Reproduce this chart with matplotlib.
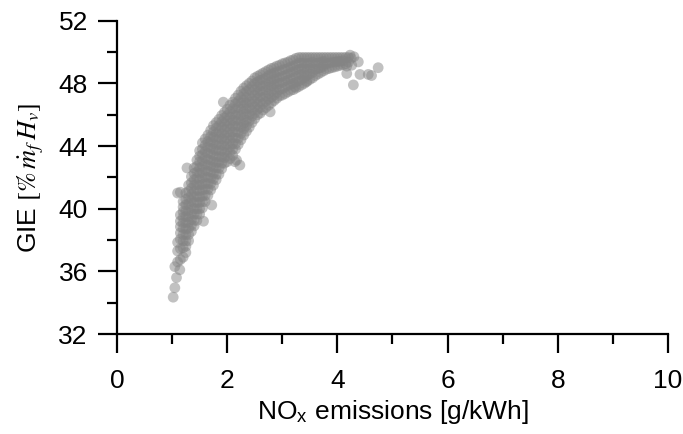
import matplotlib
matplotlib.use("Agg")
import matplotlib.pyplot as plt
from matplotlib.ticker import MultipleLocator

plt.rcParams["font.family"] = ["Liberation Sans", "DejaVu Sans"]
plt.rcParams["mathtext.fontset"] = "stix"

# NOx emissions [g/kWh] (one value per column of readings) and the GIE values read at it
nox_cols = [1.10, 1.15, 1.20, 1.25, 1.30, 1.35, 1.40, 1.45, 1.50, 1.55,
            1.60, 1.65, 1.70, 1.75, 1.80, 1.85, 1.90, 1.95, 2.00, 2.05,
            2.10, 2.15, 2.20, 2.25, 2.30, 2.35, 2.40, 2.45, 2.50, 2.55,
            2.60, 2.65, 2.70, 2.75, 2.80, 2.85, 2.90, 2.95, 3.00, 3.05,
            3.10, 3.15, 3.20, 3.25, 3.30, 3.35, 3.40, 3.45, 3.50, 3.55,
            3.60, 3.65, 3.70, 3.75, 3.80, 3.85, 3.90, 3.95, 4.00, 4.05,
            4.10, 4.15, 4.20, 4.25]
gie_cols = [
    [36.6, 37.3, 37.85],
    [36.75, 37.45, 38.05, 38.45, 38.85, 39.2, 39.6],
    [36.9, 37.5, 37.95, 38.35, 38.75, 39.1, 39.45, 39.8, 40.1, 40.45],
    [37.2, 37.6, 37.95, 38.35, 38.7, 39.1, 39.5, 39.85, 40.25, 40.6, 41.0],
    [37.95, 38.35, 38.75, 39.15, 39.5, 39.9, 40.3, 40.7, 41.1, 41.5],
    [38.55, 38.95, 39.3, 39.7, 40.1, 40.5, 40.9, 41.3, 41.65, 42.05],
    [38.9, 39.25, 39.65, 40.0, 40.4, 40.75, 41.1, 41.5, 41.85, 42.25, 42.6],
    [39.25, 39.65, 40.0, 40.4, 40.8, 41.2, 41.55, 41.95, 42.35, 42.7, 43.1],
    [39.65, 40.0, 40.4, 40.75, 41.15, 41.5, 41.85, 42.25, 42.6, 43.0, 43.35, 43.7],
    [40.05, 40.45, 40.8, 41.2, 41.55, 41.95, 42.3, 42.7, 43.05, 43.45, 43.8, 44.2],
    [40.45, 40.85, 41.25, 41.65, 42.05, 42.45, 42.85, 43.25, 43.65, 44.05, 44.45],
    [40.85, 41.25, 41.6, 42.0, 42.4, 42.8, 43.15, 43.55, 43.95, 44.3, 44.7],
    [41.2, 41.6, 41.95, 42.35, 42.7, 43.1, 43.5, 43.85, 44.25, 44.6, 45.0],
    [41.5, 41.9, 42.25, 42.65, 43.0, 43.4, 43.8, 44.15, 44.55, 44.9, 45.3],
    [41.85, 42.2, 42.6, 42.95, 43.3, 43.7, 44.05, 44.4, 44.8, 45.15, 45.5],
    [42.2, 42.6, 43.0, 43.35, 43.75, 44.15, 44.55, 44.9, 45.3, 45.7],
    [42.55, 42.9, 43.3, 43.7, 44.05, 44.45, 44.8, 45.2, 45.55, 45.95],
    [42.9, 43.25, 43.6, 44.0, 44.35, 44.7, 45.05, 45.45, 45.8, 46.15],
    [43.0, 43.35, 43.75, 44.1, 44.5, 44.85, 45.25, 45.6, 45.95, 46.35],
    [43.2, 43.6, 43.95, 44.35, 44.7, 45.1, 45.45, 45.85, 46.2, 46.6],
    [43.4, 43.8, 44.15, 44.55, 44.9, 45.3, 45.65, 46.05, 46.4, 46.8],
    [43.8, 44.15, 44.5, 44.9, 45.25, 45.6, 45.95, 46.35, 46.7, 47.05],
    [44.1, 44.5, 44.9, 45.3, 45.7, 46.05, 46.45, 46.85, 47.25],
    [44.4, 44.8, 45.2, 45.55, 45.95, 46.35, 46.75, 47.1, 47.5],
    [44.7, 45.1, 45.45, 45.85, 46.2, 46.6, 46.95, 47.35, 47.7],
    [44.95, 45.3, 45.65, 46.05, 46.4, 46.75, 47.1, 47.5, 47.85],
    [45.2, 45.6, 46.0, 46.4, 46.8, 47.2, 47.6, 48.0],
    [45.5, 45.9, 46.25, 46.65, 47.0, 47.4, 47.8, 48.15],
    [45.75, 46.1, 46.5, 46.85, 47.25, 47.6, 48.0, 48.35],
    [46.0, 46.35, 46.7, 47.05, 47.4, 47.75, 48.1, 48.45],
    [46.1, 46.45, 46.8, 47.15, 47.5, 47.85, 48.2, 48.55],
    [46.3, 46.7, 47.1, 47.5, 47.85, 48.25, 48.65],
    [46.45, 46.85, 47.2, 47.6, 48.0, 48.35, 48.75],
    [46.6, 47.0, 47.35, 47.75, 48.1, 48.5, 48.85],
    [46.75, 47.1, 47.5, 47.85, 48.2, 48.6, 48.95],
    [46.9, 47.25, 47.6, 47.95, 48.3, 48.65, 49.0],
    [47.05, 47.4, 47.75, 48.1, 48.4, 48.75, 49.1],
    [47.2, 47.6, 48.0, 48.35, 48.75, 49.15],
    [47.25, 47.65, 48.05, 48.45, 48.85, 49.25],
    [47.35, 47.75, 48.15, 48.5, 48.9, 49.3],
    [47.45, 47.85, 48.2, 48.6, 48.95, 49.35],
    [47.55, 47.95, 48.3, 48.7, 49.05, 49.45],
    [47.6, 48.0, 48.35, 48.75, 49.1, 49.5],
    [47.7, 48.1, 48.45, 48.85, 49.2, 49.6],
    [47.8, 48.15, 48.55, 48.9, 49.3, 49.65],
    [47.9, 48.25, 48.6, 48.95, 49.3, 49.65],
    [48.0, 48.35, 48.65, 49.0, 49.3, 49.65],
    [48.15, 48.5, 48.9, 49.25, 49.65],
    [48.25, 48.6, 48.95, 49.3, 49.65],
    [48.35, 48.7, 49.0, 49.35, 49.65],
    [48.5, 48.9, 49.25, 49.65],
    [48.6, 48.95, 49.3, 49.65],
    [48.7, 49.0, 49.35, 49.65],
    [48.8, 49.1, 49.4, 49.65],
    [48.9, 49.25, 49.65],
    [48.95, 49.3, 49.65],
    [49.0, 49.35, 49.65],
    [49.05, 49.35, 49.65],
    [49.1, 49.4, 49.65],
    [49.15, 49.4, 49.65],
    [49.2, 49.45, 49.65],
    [49.25, 49.65],
    [49.35, 49.65],
    [49.6],
]

# isolated operating points away from the main band
nox_extra = [1.02, 1.05, 1.08, 1.05, 1.14, 1.10, 1.15, 1.27, 1.57, 1.72,
             1.93, 2.17, 2.23, 2.14, 2.78, 3.23, 3.44, 4.17, 4.41, 4.56,
             4.62, 4.74, 4.29, 4.38, 4.26, 4.23, 4.17, 4.30]
gie_extra = [34.35, 34.95, 35.6, 36.3, 36.1, 41.0, 41.05, 42.6, 39.2, 40.23,
             46.8, 43.1, 42.78, 43.0, 46.18, 47.78, 48.1, 48.63, 48.57, 48.57,
             48.5, 49.0, 47.9, 49.37, 49.16, 49.8, 49.1, 49.7]

nox = [x for x, col in zip(nox_cols, gie_cols) for _ in col] + nox_extra
gie = [y for col in gie_cols for y in col] + gie_extra

fig = plt.figure(figsize=(6.83, 4.34), dpi=100)
ax = fig.add_axes([0.1713, 0.2304, 0.8067, 0.7219])

ax.scatter(nox, gie, s=60, c="#848484", alpha=0.5, edgecolors="none")

ax.set_xlim(0, 10)
ax.set_ylim(32, 52)
ax.xaxis.set_major_locator(MultipleLocator(2))
ax.xaxis.set_minor_locator(MultipleLocator(1))
ax.yaxis.set_major_locator(MultipleLocator(4))
ax.yaxis.set_minor_locator(MultipleLocator(2))

for side in ("top", "right"):
    ax.spines[side].set_visible(False)
for side in ("left", "bottom"):
    ax.spines[side].set_linewidth(1.6)
    ax.spines[side].set_color("black")

ax.tick_params(which="major", direction="out", length=14, width=1.6,
               labelsize=19, colors="black")
ax.tick_params(which="minor", direction="out", length=7.5, width=1.6)
ax.tick_params(axis="x", which="major", pad=11)
ax.tick_params(axis="y", which="major", pad=7)

ax.set_xlabel(r"NO$_{\mathregular{x}}$ emissions [g/kWh]", fontsize=19)
ax.set_ylabel(r"GIE $[\%\,\dot{m}_f\,H_v]$", fontsize=19)
ax.xaxis.set_label_coords(0.5, -0.205)
ax.yaxis.set_label_coords(-0.128, 0.5)

fig.savefig("out.png", dpi=100)
